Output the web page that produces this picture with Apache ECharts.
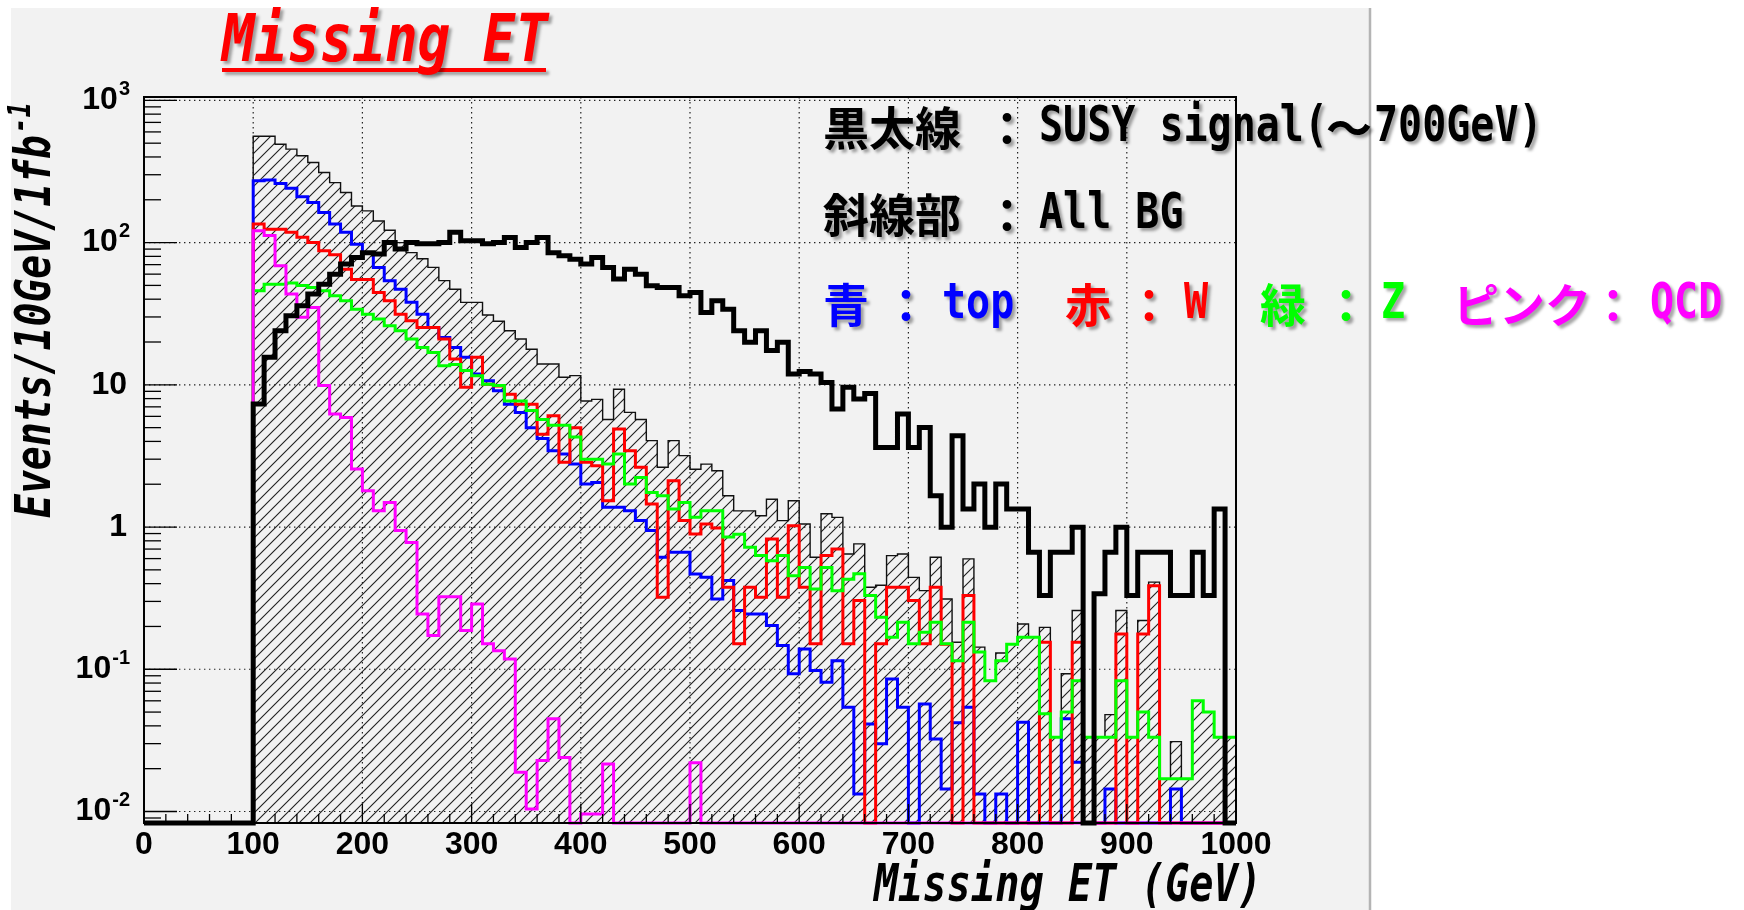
<!DOCTYPE html>
<html lang="ja">
<head>
<meta charset="utf-8">
<title>Missing ET</title>
<script src="https://cdn.jsdelivr.net/npm/echarts@6.0.0/dist/echarts.min.js"></script>
<style>
  html, body { margin: 0; padding: 0; background: #ffffff; }
  #chart { width: 1744px; height: 910px; }
</style>
</head>
<body>
<div id="chart"></div>
<script>
// Binning: 100 bins of 10 GeV from 0 to 1000 GeV
const BIN_WIDTH = 10;
const X_START = 0;
const X_END = 1000;
const Y_MIN = 0.0083;
const Y_MAX = 1056;

// Events / 10 GeV / 1 fb^-1 in each bin (the first ten bins, 0-100 GeV, are empty)
const allBG = [0,0,0,0,0,0,0,0,0,0,
  560,560,492,454,408,366,311,264,225,181,
  167,142,122,100,85,77,67,54,47,38,
  38,31,28,24,21,17.8,14,14,11.3,11.6,
  7.7,7.9,5.7,9.3,6.4,5.7,4.05,2.63,4.05,3.18,
  2.55,2.77,2.49,1.66,1.30,1.30,1.20,1.57,1.11,1.53,
  1.05,0.613,1.24,1.17,0.647,0.761,0.377,0.39,0.63,0.647,
  0.443,0.357,0.613,0.312,0.155,0.597,0.143,0.083,0.13,0.15,
  0.208,0.168,0.197,0.0333,0.093,0.259,0.0333,0.0333,0.048,0.259,
  0.0333,0.22,0.41,0.017,0.031,0.017,0.06,0.05,0.0333,0.0333];

const topBG = [0,0,0,0,0,0,0,0,0,0,
  272,276,260,241,210,191,163,135,118,97.5,
  85,66.8,54,47,38,31.4,25.3,21.5,18.3,15.6,
  11.9,10.7,9.1,7.3,6.4,5.0,4.2,3.44,3.26,2.77,
  2.01,2.06,1.38,1.38,1.30,1.11,0.944,0.613,0.664,0.664,
  0.468,0.443,0.312,0.42,0.259,0.245,0.245,0.203,0.147,0.093,
  0.139,0.098,0.081,0.115,0.054,0.0133,0.0413,0.0299,0.0855,0.054,
  0,0.057,0.0324,0.0144,0.042,0.054,0.0133,0,0.0133,0,
  0.0424,0,0,0,0.0448,0.0222,0,0,0.0144,0,
  0,0,0,0,0.0144,0,0,0,0,0];

const wBG = [0,0,0,0,0,0,0,0,0,0,
  135,124,124,118,109,100,87.5,82,65,55,
  55,44.6,39,31.4,28.2,25.3,25.3,21,15.2,9.6,
  15.6,10.1,9.8,8.6,7.3,7.3,4.5,6.06,2.85,5.0,
  2.85,2.70,1.53,4.9,3.44,2.63,1.45,0.321,2.12,1.11,
  0.894,1.05,0.986,0.377,0.151,0.377,0.321,0.825,0.321,1.02,
  0.377,0.151,0.63,0.702,0.151,0.304,0,0.151,0.377,0.377,
  0.304,0.151,0.377,0.15,0,0.33,0,0,0,0,
  0,0,0.155,0,0,0.155,0,0,0,0.177,
  0,0.177,0.387,0,0,0,0,0,0,0];

const zBG = [0,0,0,0,0,0,0,0,0,0,
  45.8,51,51,52,50,48.4,45.8,42.3,39,34,
  31.4,29,26,24,21,18.3,16.9,13.6,13.9,12.6,
  11.6,10.1,9.9,7.7,7.7,6.6,5.7,5.2,5.2,4.3,
  3.0,3.0,2.77,3.26,2.01,2.23,1.75,1.66,1.34,1.49,
  1.17,1.30,1.30,0.85,0.89,0.72,0.63,0.58,0.63,0.455,
  0.52,0.367,0.52,0.357,0.43,0.47,0.33,0.232,0.168,0.214,
  0.151,0.182,0.214,0.151,0.115,0.214,0.132,0.083,0.115,0.15,
  0.168,0.168,0.0486,0.0333,0.05,0.083,0.0333,0.0333,0.0333,0.083,
  0.0333,0.05,0.0333,0.017,0.017,0.017,0.06,0.05,0.0333,0.0333];

const qcdBG = [0,0,0,0,0,0,0,0,0,0,
  121,112,68.7,43.5,29.8,35,9.87,6.24,5.9,2.56,
  1.80,1.30,1.49,0.944,0.78,0.245,0.173,0.324,0.324,0.187,
  0.288,0.151,0.135,0.118,0.0189,0.0104,0.0228,0.0448,0.024,0,
  0.0096,0.0096,0.0216,0,0,0,0,0,0,0,
  0.022,0,0,0,0,0,0,0,0,0,
  0,0,0,0,0,0,0,0,0,0,
  0,0,0,0,0,0,0,0,0,0,
  0,0,0,0,0,0,0,0,0,0,
  0,0,0,0,0,0,0,0,0,0];

const susySignal = [0,0,0,0,0,0,0,0,0,0,
  7.33,15.6,24,30.6,36,43.5,51,60,70.6,78.6,
  85,83,100,90,100,98,98,100,118,103,
  103,98,100,108.6,92.5,100,108.6,85,80.8,76.5,
  70.6,78.6,66.8,55.4,65,60,49.7,48.4,48.4,42.3,
  44.6,32.3,39,34,24,19.9,24,17.4,19.9,11.9,
  12.4,11.9,10.4,6.76,9.6,7.94,8.7,3.63,3.63,6.24,
  3.63,5.02,1.66,0.995,4.39,1.34,2.01,0.995,2.01,1.34,
  1.34,0.664,0.33,0.664,0.664,0.995,0,0.339,0.664,0.995,
  0.33,0.664,0.664,0.664,0.33,0.33,0.664,0.33,1.34,0];

// Axis ticks and labels
const xMajorTicks = [0,100,200,300,400,500,600,700,800,900,1000];
const xTickLabels = ['0','100','200','300','400','500','600','700','800','900','1000'];
const xMinorStep = 20;
const yDecades = [0.01, 0.1, 1, 10, 100, 1000];
const yTickLabels = [['10','-2'], ['10','-1'], ['1',''], ['10',''], ['10','2'], ['10','3']];

// Fonts
const LABEL_FONT = 'bold 32px "Liberation Sans"';
const EXP_FONT = 'bold 20px "Liberation Sans"';
const MONO = '"DejaVu Sans Mono"';
const CJK = '"Noto Sans CJK JP"';

// Diagonal hatch tile used for the summed background
function makeHatch() {
  const s = 11;
  const c = document.createElement('canvas');
  c.width = s; c.height = s;
  const g = c.getContext('2d');
  g.strokeStyle = '#202020';
  g.lineWidth = 1.1;
  g.beginPath();
  g.moveTo(-2, s + 2); g.lineTo(s + 2, -2);
  g.moveTo(-2, 2); g.lineTo(2, -2);
  g.moveTo(s - 2, s + 2); g.lineTo(s + 2, s - 2);
  g.stroke();
  return c;
}
const hatchTile = makeHatch();

const meas = document.createElement('canvas').getContext('2d');
function textW(str, font) { meas.font = font; return meas.measureText(str).width; }

function clampY(v) { return v > 0 ? Math.min(Math.max(v, Y_MIN), Y_MAX) : Y_MIN; }

function stepPoints(api, values) {
  const pts = [];
  for (let i = 0; i < values.length; i++) {
    const lo = X_START + i * BIN_WIDTH;
    const hi = lo + BIN_WIDTH;
    const v = clampY(values[i]);
    pts.push(api.coord([lo, v]), api.coord([hi, v]));
  }
  return pts;
}

function histSeries(name, values, color, width) {
  return {
    type: 'custom', name: name, silent: true, data: [[0, 1]],
    renderItem: function (params, api) {
      return {
        type: 'polyline',
        shape: { points: stepPoints(api, values) },
        style: { stroke: color, lineWidth: width, fill: 'none', lineJoin: 'miter', lineCap: 'butt' }
      };
    }
  };
}

const hatchSeries = {
  type: 'custom', name: 'All BG', silent: true, data: [[0, 1]],
  renderItem: function (params, api) {
    const pts = stepPoints(api, allBG);
    const poly = [api.coord([X_START, Y_MIN])].concat(pts, [api.coord([X_END, Y_MIN])]);
    return {
      type: 'group',
      children: [
        { type: 'polygon', shape: { points: poly }, style: { fill: { image: hatchTile, repeat: 'repeat' }, stroke: null } },
        { type: 'polyline', shape: { points: pts }, style: { stroke: '#111', lineWidth: 1.4, fill: 'none' } }
      ]
    };
  }
};

const gridSeries = {
  type: 'custom', name: 'grid', silent: true, data: [[0, 1]],
  renderItem: function (params, api) {
    const ch = [];
    const dot = { stroke: '#222', lineWidth: 1.2, lineDash: [1.4, 3.6] };
    xMajorTicks.forEach(function (x) {
      if (x === X_START || x === X_END) return;
      const a = api.coord([x, Y_MAX]), b = api.coord([x, Y_MIN]);
      ch.push({ type: 'line', shape: { x1: a[0], y1: a[1], x2: b[0], y2: b[1] }, style: dot });
    });
    yDecades.forEach(function (y) {
      const a = api.coord([X_START, y]), b = api.coord([X_END, y]);
      ch.push({ type: 'line', shape: { x1: a[0], y1: a[1], x2: b[0], y2: b[1] }, style: dot });
    });
    return { type: 'group', children: ch };
  }
};

const axesSeries = {
  type: 'custom', name: 'axes', silent: true, data: [[0, 1]],
  renderItem: function (params, api) {
    const ch = [];
    const tl = api.coord([X_START, Y_MAX]);
    const br = api.coord([X_END, Y_MIN]);
    const tick = { stroke: '#000', lineWidth: 1.3 };
    // y ticks: decades long, 2..9 short
    for (let k = -3; k <= 3; k++) {
      for (let m = 1; m <= 9; m++) {
        const v = m * Math.pow(10, k);
        if (v < Y_MIN || v > Y_MAX) continue;
        const p = api.coord([X_START, v]);
        const len = m === 1 ? 33 : 17;
        ch.push({ type: 'line', shape: { x1: tl[0], y1: p[1], x2: tl[0] + len, y2: p[1] }, style: tick });
      }
    }
    // x ticks
    for (let x = X_START; x <= X_END; x += xMinorStep) {
      const p = api.coord([x, Y_MIN]);
      const len = x % 100 === 0 ? 19 : 9;
      ch.push({ type: 'line', shape: { x1: p[0], y1: br[1], x2: p[0], y2: br[1] - len }, style: tick });
    }
    // frame
    ch.push({ type: 'rect', shape: { x: tl[0], y: tl[1], width: br[0] - tl[0], height: br[1] - tl[1] },
      style: { stroke: '#000', lineWidth: 2, fill: 'none' } });
    // x labels
    xMajorTicks.forEach(function (x, i) {
      const p = api.coord([x, Y_MIN]);
      ch.push({ type: 'text', x: p[0], y: 845,
        style: { text: xTickLabels[i], font: LABEL_FONT, fill: '#000', align: 'center', verticalAlign: 'middle' } });
    });
    // y labels (base + raised exponent)
    yDecades.forEach(function (y, i) {
      const p = api.coord([X_START, y]);
      const base = yTickLabels[i][0], exp = yTickLabels[i][1];
      if (!exp) {
        ch.push({ type: 'text', x: 127, y: p[1],
          style: { text: base, font: LABEL_FONT, fill: '#000', align: 'right', verticalAlign: 'middle' } });
      } else {
        const ew = textW(exp, EXP_FONT);
        ch.push({ type: 'text', x: 130, y: p[1] - 11,
          style: { text: exp, font: EXP_FONT, fill: '#000', align: 'right', verticalAlign: 'middle' } });
        ch.push({ type: 'text', x: 130 - ew - 1, y: p[1],
          style: { text: base, font: LABEL_FONT, fill: '#000', align: 'right', verticalAlign: 'middle' } });
      }
    });
    return { type: 'group', children: ch };
  }
};

// Text helpers for the title and annotation lines
const SHADOW = { textShadowColor: 'rgba(0,0,0,0.35)', textShadowBlur: 3, textShadowOffsetX: 3, textShadowOffsetY: 3 };
function txt(str, x, y, font, color, scaleX, align, shadow) {
  const style = { text: str, font: font, fill: color, align: align || 'left', verticalAlign: 'middle' };
  if (shadow) Object.assign(style, SHADOW);
  return { type: 'text', x: x, y: y, scaleX: scaleX || 1, z: 50, style: style };
}
function fitTxt(str, x0, x1, y, font, color, shadow) {
  return txt(str, x0, y, font, color, (x1 - x0) / textW(str, font), 'left', shadow);
}

const LEG_LAT = 'bold 50px ' + MONO;
const LEG_CJK = 'bold 46px ' + CJK;
const LAT_SCALE = 0.8;

const legendLines = [
  { y: 128, parts: [
    ['cjk', '黒太線', 823, '#000'], ['colon', '：', 1007, '#000'], ['lat', 'SUSY signal(', 1039, '#000'],
    ['cjk', '～', 1326, '#000'], ['lat', '700GeV)', 1374, '#000'] ] },
  { y: 215, parts: [
    ['cjk', '斜線部', 823, '#000'], ['colon', '：', 1007, '#000'], ['lat', 'All BG', 1039, '#000'] ] },
  { y: 305, parts: [
    ['cjk', '青', 823, '#0000ff'], ['colon', '：', 906, '#0000ff'], ['lat', 'top', 942, '#0000ff'],
    ['cjk', '赤', 1065, '#ff0000'], ['colon', '：', 1149, '#ff0000'], ['lat', 'W', 1184, '#ff0000'],
    ['cjk', '緑', 1260, '#00ff00'], ['colon', '：', 1346, '#00ff00'], ['lat', 'Z', 1381, '#00ff00'],
    ['cjk', 'ピンク', 1453, '#ff00ff'], ['colon', '：', 1613, '#ff00ff'], ['lat', 'QCD', 1650, '#ff00ff'] ] }
];

const graphics = [
  // canvas panel
  { type: 'rect', z: -10, shape: { x: 11, y: 8, width: 1359, height: 910 }, style: { fill: '#f2f2f2' } },
  { type: 'line', z: -9, shape: { x1: 1370, y1: 8, x2: 1370, y2: 910 }, style: { stroke: '#b4b4b4', lineWidth: 2.5 } },
  // title
  fitTxt('Missing ET', 222, 548, 44, 'italic bold 66px ' + MONO, '#ff0000', true),
  { type: 'rect', z: 49, shape: { x: 222, y: 68, width: 324, height: 4 },
    style: { fill: '#ff0000', shadowColor: 'rgba(0,0,0,0.35)', shadowBlur: 3, shadowOffsetX: 3, shadowOffsetY: 3 } },
  // x-axis title
  fitTxt('Missing ET (GeV)', 874, 1262, 888, 'italic bold 51px ' + MONO, '#000', false),
  // y-axis title, reading upwards
  { type: 'group', x: 37, y: 518, rotation: Math.PI / 2, z: 50, children: [
    { type: 'text', x: 0, y: 0, scaleX: 383 / textW('Events/10GeV/1fb', 'italic bold 50px ' + MONO),
      style: { text: 'Events/10GeV/1fb', font: 'italic bold 50px ' + MONO, fill: '#000', align: 'left', verticalAlign: 'middle' } },
    { type: 'text', x: 385, y: -15, scaleX: 0.8,
      style: { text: '-1', font: 'italic bold 32px ' + MONO, fill: '#000', align: 'left', verticalAlign: 'middle' } }
  ] }
];

legendLines.forEach(function (line) {
  line.parts.forEach(function (p) {
    const kind = p[0], s = p[1], x = p[2], c = p[3];
    if (kind === 'cjk') graphics.push(txt(s, x, line.y, LEG_CJK, c, 1, 'left', true));
    else if (kind === 'colon') graphics.push(txt(s, x, line.y, LEG_CJK, c, 1, 'center', true));
    else graphics.push(txt(s, x, line.y, LEG_LAT, c, LAT_SCALE, 'left', true));
  });
});

const chart = echarts.init(document.getElementById('chart'), null, { renderer: 'canvas' });
chart.setOption({
  animation: false,
  backgroundColor: '#ffffff',
  grid: { left: 144, right: 1744 - 1236, top: 97, bottom: 910 - 823, containLabel: false },
  xAxis: { type: 'value', min: X_START, max: X_END,
    axisLine: { show: false }, axisTick: { show: false }, axisLabel: { show: false }, splitLine: { show: false } },
  yAxis: { type: 'log', logBase: 10, min: Y_MIN, max: Y_MAX,
    axisLine: { show: false }, axisTick: { show: false }, axisLabel: { show: false }, splitLine: { show: false } },
  graphic: { elements: graphics },
  series: [
    gridSeries,
    hatchSeries,
    histSeries('top', topBG, '#0000ff', 3),
    histSeries('W', wBG, '#ff0000', 3),
    histSeries('Z', zBG, '#00ff00', 3),
    histSeries('QCD', qcdBG, '#ff00ff', 3),
    histSeries('SUSY signal', susySignal, '#000000', 5),
    axesSeries
  ]
});
</script>
</body>
</html>
